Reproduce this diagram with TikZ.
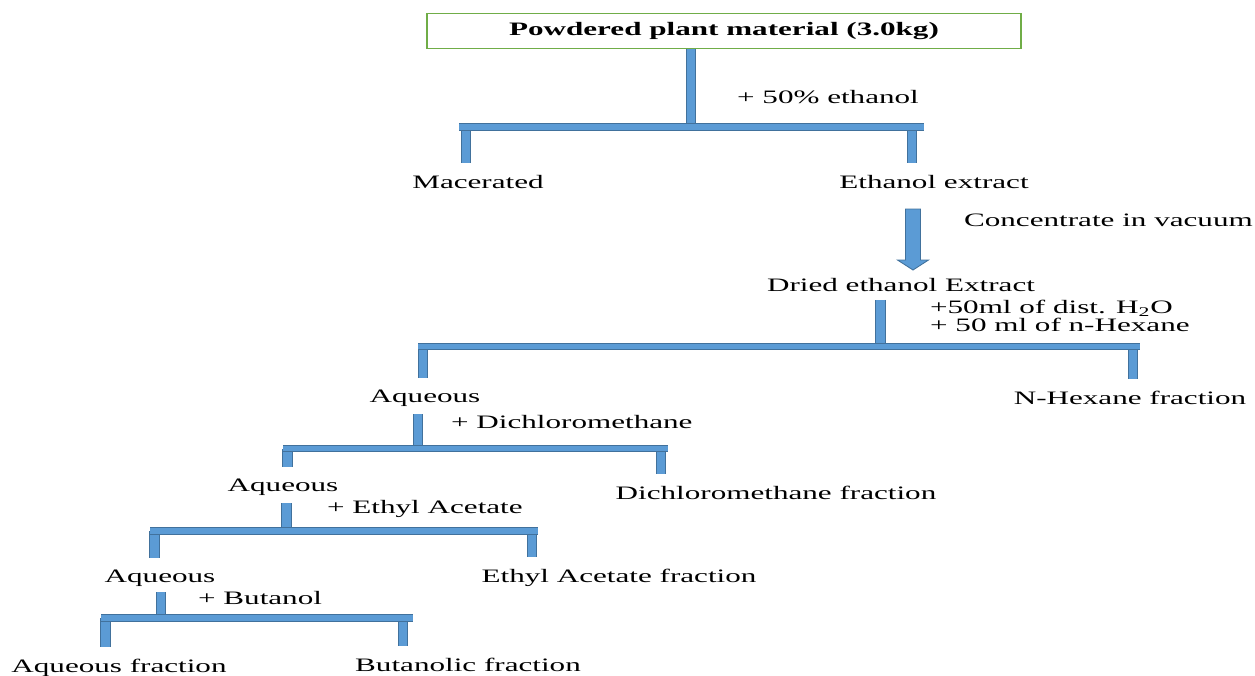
\documentclass[tikz,border=0pt]{standalone}
\usepackage{fontspec}
\setmainfont{Liberation Serif}[FakeStretch=1.64]
\definecolor{barfill}{RGB}{91,155,213}
\definecolor{barline}{RGB}{65,113,156}
\definecolor{boxgreen}{RGB}{112,173,71}

\begin{document}
\begin{tikzpicture}[x=0.02cm, y=-0.02cm, every node/.style={font=\fontsize{10.8pt}{10.5pt}\selectfont, inner sep=1pt}]
\tikzstyle{topbox}=[draw=boxgreen, line width=1pt, minimum width=11.88cm, minimum height=0.7cm, font=\bfseries\fontsize{10.8pt}{12pt}\selectfont]
\tikzstyle{stem}=[draw=barline, line width=0.5pt, double=barfill, double distance=0.17cm]
\tikzstyle{leg}=[stem, shorten >=0.2cm]
\tikzstyle{hbar}=[stem, double distance=0.11cm]
\tikzstyle{arrowbar}=[draw=barline, line width=0.5pt, fill=barfill]
\useasboundingbox (0,0) rectangle (1255,676);

% products
\node[topbox] (plant) at (724,31) {Powdered plant material (3.0kg)};
\node (mac) at (478,182) {Macerated};
\node (ethx) at (934,182) {Ethanol extract};
\node (dried) at (901,285) {Dried ethanol Extract};
\node (aq1) at (425,398) {Aqueous};
\node (hex) at (1130,398) {N-Hexane fraction};
\node (aq2) at (283,487) {Aqueous};
\node (dcm) at (776,493) {Dichloromethane fraction};
\node (aq3) at (160,578) {Aqueous};
\node (eta) at (619,578) {Ethyl Acetate fraction};
\node (aqf) at (119,668) {Aqueous fraction};
\node (but) at (468,665) {Butanolic fraction};

% solvents
\node[anchor=west] (s1) at (735,97) {+ 50\% ethanol};
\node[anchor=west] (s2) at (962,220) {Concentrate in vacuum};
\node[anchor=west, align=left] (s3) at (928,316) {+50ml of dist. H\textsubscript{2}O\\+ 50 ml of n-Hexane};
\node[anchor=west] (s4) at (449,422) {+ Dichloromethane};
\node[anchor=west] (s5) at (325,509) {+ Ethyl Acetate};
\node[anchor=west] (s6) at (196,598) {+ Butanol};

% split points
\coordinate (j1) at (691,127);
\coordinate (b1l) at (459,127); \coordinate (b1r) at (924,127);
\coordinate (k1l) at (466,127); \coordinate (k1r) at (912,127);
\coordinate (j2) at (880.5,346.5);
\coordinate (b2l) at (418,346.5); \coordinate (b2r) at (1140,346.5);
\coordinate (k2l) at (423,346.5); \coordinate (k2r) at (1133,346.5);
\coordinate (j3) at (418,448.5);
\coordinate (b3l) at (283,448.5); \coordinate (b3r) at (668,448.5);
\coordinate (k3l) at (287.5,448.5); \coordinate (k3r) at (661,448.5);
\coordinate (j4) at (286.5,531);
\coordinate (b4l) at (150,531); \coordinate (b4r) at (538,531);
\coordinate (k4l) at (154.5,531); \coordinate (k4r) at (532,531);
\coordinate (j5) at (161,618);
\coordinate (b5l) at (101,618); \coordinate (b5r) at (413,618);
\coordinate (k5l) at (105.5,618); \coordinate (k5r) at (403,618);
\coordinate (a1) at (913,209);
\coordinate (a2) at (913,270);

% maceration
\draw[stem] (plant.south -| j1) -- (j1);
\draw[leg] (k1l) -- (k1l |- mac.north);
\draw[leg] (k1r) -- (k1r |- ethx.north);
\draw[hbar] (b1l) -- (b1r);

% concentration
\draw[arrowbar] (a1) ++(-7.5,0) -- ++(15,0) -- ++(0,51) -- ++(8,0) -- (a2) -- ++(-15.5,-10) -- ++(8,0) -- cycle;

% n-hexane
\draw[stem] (dried.south -| j2) ++(0,6) -- (j2);
\draw[leg] (k2l) -- (k2l |- aq1.north);
\draw[leg] (k2r) -- (k2r |- hex.north);
\draw[hbar] (b2l) -- (b2r);

% dichloromethane
\draw[stem] (aq1.south -| j3) ++(0,6) -- (j3);
\draw[leg] (k3l) -- (k3l |- aq2.north);
\draw[leg] (k3r) -- (k3r |- dcm.north);
\draw[hbar] (b3l) -- (b3r);

% ethyl acetate
\draw[stem] (aq2.south -| j4) ++(0,6) -- (j4);
\draw[leg] (k4l) -- (k4l |- aq3.north);
\draw[leg] (k4r) -- (k4r |- eta.north);
\draw[hbar] (b4l) -- (b4r);

% butanol
\draw[stem] (aq3.south -| j5) ++(0,4) -- (j5);
\draw[leg] (k5l) -- (k5l |- aqf.north);
\draw[leg] (k5r) -- (k5r |- but.north);
\draw[hbar] (b5l) -- (b5r);
\end{tikzpicture}
\end{document}
